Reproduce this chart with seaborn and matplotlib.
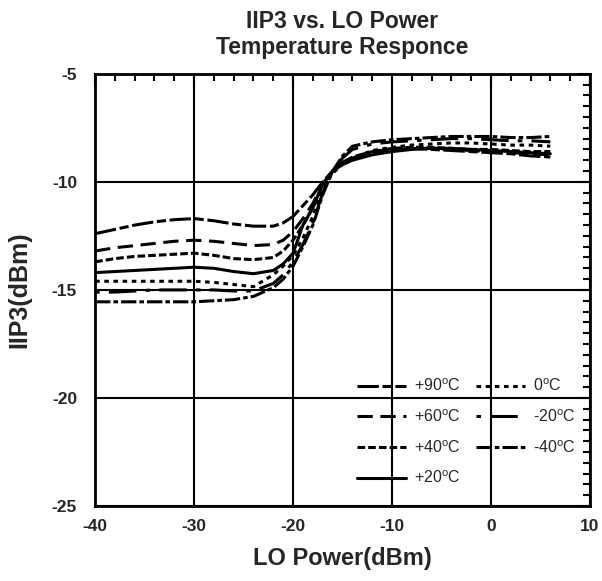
import pandas as pd
import matplotlib
matplotlib.use("Agg")
import matplotlib.pyplot as plt
from matplotlib.ticker import MultipleLocator
import seaborn as sns

# LO power sweep (dBm)
lo = [-40, -38, -36, -34, -32, -30, -28, -26, -24, -22, -21, -20, -19, -18,
      -17, -16, -15, -14, -12, -10, -8, -6, -4, -2, 0, 2, 4, 6]

# IIP3 (dBm) for each temperature
p90 = [-12.4, -12.2, -12.0, -11.85, -11.75, -11.7, -11.8, -11.95, -12.05, -12.05, -11.9, -11.6, -11.1, -10.6,
       -10.0, -9.5, -9.1, -8.85, -8.6, -8.5, -8.45, -8.5, -8.55, -8.6, -8.65, -8.7, -8.8, -8.85]
p60 = [-13.2, -13.05, -12.95, -12.85, -12.75, -12.7, -12.75, -12.85, -12.95, -12.9, -12.7, -12.3, -11.7, -11.0,
       -10.1, -9.5, -9.15, -8.9, -8.65, -8.5, -8.45, -8.45, -8.5, -8.55, -8.6, -8.65, -8.7, -8.75]
p40 = [-13.7, -13.55, -13.45, -13.4, -13.35, -13.3, -13.4, -13.55, -13.6, -13.5, -13.2, -12.7, -12.0, -11.2,
       -10.1, -9.5, -9.15, -8.9, -8.6, -8.45, -8.4, -8.4, -8.45, -8.5, -8.5, -8.55, -8.6, -8.6]
p20 = [-14.2, -14.15, -14.1, -14.05, -14.0, -13.95, -14.0, -14.15, -14.25, -14.1, -13.8, -13.3, -12.0, -11.2,
       -10.1, -9.5, -9.2, -9.0, -8.75, -8.6, -8.5, -8.45, -8.45, -8.5, -8.55, -8.6, -8.65, -8.7]
p0 = [-14.6, -14.6, -14.6, -14.6, -14.6, -14.6, -14.65, -14.75, -14.85, -14.3, -13.9, -13.4, -12.6, -11.6,
      -10.3, -9.6, -9.2, -8.9, -8.55, -8.4, -8.3, -8.25, -8.2, -8.2, -8.25, -8.3, -8.3, -8.35]
m20 = [-15.1, -15.1, -15.05, -15.0, -15.0, -15.0, -15.0, -15.05, -15.05, -14.7, -14.3, -13.7, -12.9, -11.9,
       -10.5, -9.5, -8.9, -8.5, -8.25, -8.15, -8.1, -8.05, -8.0, -8.0, -8.05, -8.1, -8.1, -8.15]
m40 = [-15.55, -15.55, -15.55, -15.55, -15.55, -15.55, -15.5, -15.45, -15.3, -14.9, -14.5, -13.9, -13.0, -12.0,
       -10.6, -9.5, -8.8, -8.35, -8.15, -8.05, -8.0, -7.95, -7.9, -7.9, -7.9, -7.95, -7.95, -7.9]

labels = [r'+90$^{\mathrm{o}}$C', r'+60$^{\mathrm{o}}$C', r'+40$^{\mathrm{o}}$C', r'+20$^{\mathrm{o}}$C',
          r'0$^{\mathrm{o}}$C', r'-20$^{\mathrm{o}}$C', r'-40$^{\mathrm{o}}$C']
series = [p90, p60, p40, p20, p0, m20, m40]

rows = []
for lab, vals in zip(labels, series):
    for x, y in zip(lo, vals):
        rows.append([lab, x, y])
df = pd.DataFrame(rows, columns=['temp', 'lo', 'iip3'])

sns.set_style("white")
plt.rcParams['font.family'] = ['Liberation Sans', 'DejaVu Sans']
plt.rcParams['mathtext.fontset'] = 'custom'
plt.rcParams['mathtext.rm'] = 'Liberation Sans'
plt.rcParams['axes.unicode_minus'] = False

dashes = {
    labels[0]: (7, 1.2, 3, 1.2),
    labels[1]: (5, 2.5),
    labels[2]: (2.5, 1),
    labels[3]: "",
    labels[4]: (1.5, 1.5),
    labels[5]: (1.5, 3, 9, 3),
    labels[6]: (5, 1, 1.5, 1),
}

fig = plt.figure(figsize=(6.02, 5.81), dpi=100)
ax = fig.add_axes([0.158, 0.129, 0.822, 0.744])
sns.lineplot(data=df, x='lo', y='iip3', hue='temp', style='temp',
             palette=['black'] * 7, dashes=dashes, linewidth=2.2, ax=ax)

ax.set_xlim(-40, 10)
ax.set_ylim(-25, -5)
ax.xaxis.set_major_locator(MultipleLocator(10))
ax.xaxis.set_minor_locator(MultipleLocator(2))
ax.yaxis.set_major_locator(MultipleLocator(5))
ax.yaxis.set_minor_locator(MultipleLocator(0.5))
ax.grid(True, which='major', color='black', linewidth=1.5)
ax.tick_params(which='both', direction='in', top=True, right=True, width=1.5, color='black')
ax.tick_params(which='major', length=9, labelsize=12.5)
ax.tick_params(axis='x', which='major', pad=9)
ax.tick_params(axis='y', which='major', pad=13)
ax.tick_params(which='minor', length=5)
for t in ax.get_xticklabels() + ax.get_yticklabels():
    t.set_fontweight('bold')
for s in ax.spines.values():
    s.set_linewidth(2)
    s.set_color('black')

ax.set_xlabel('LO Power(dBm)', fontsize=17, fontweight='bold', labelpad=10)
ax.set_ylabel('IIP3(dBm)', fontsize=18, fontweight='bold', labelpad=15)
ax.set_title('IIP3 vs. LO Power\nTemperature Responce', fontsize=16.5, fontweight='bold', pad=14)

h, l = ax.get_legend_handles_labels()
ax.legend(h, l, ncol=2, loc='upper left', bbox_to_anchor=(0.5, 0.33), frameon=False,
          fontsize=11.5, handlelength=3.1, handletextpad=0.5, columnspacing=0.9, labelspacing=0.88)

fig.savefig('out.png', dpi=100)
